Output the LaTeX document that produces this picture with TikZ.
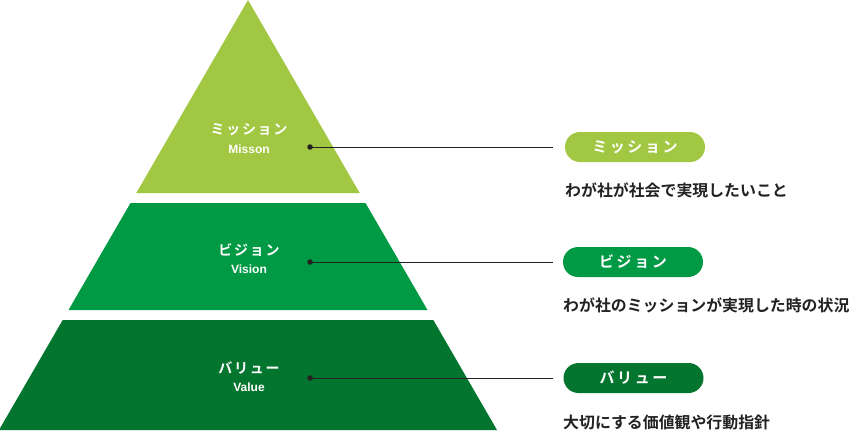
\documentclass[tikz,border=0pt]{standalone}
\usepackage{fontspec}
\usepackage{tikz}
\usetikzlibrary{positioning,calc}
\setmainfont{Noto Sans CJK JP Bold}
\newfontfamily\jptitle[LetterSpace=12]{Noto Sans CJK JP Bold}
\newfontfamily\jppill[LetterSpace=17]{Noto Sans CJK JP Bold}
\newfontfamily\latinb{Liberation Sans Bold}
\definecolor{missiongreen}{RGB}{161,199,67}
\definecolor{visiongreen}{RGB}{0,154,68}
\definecolor{valuegreen}{RGB}{3,117,47}
\definecolor{inkgray}{RGB}{34,34,34}
\begin{document}
\begin{tikzpicture}[x=1pt,y=-1pt,
    every node/.style={inner sep=0pt,text=white},
    title/.style={font=\jptitle\fontsize{14}{14}\selectfont},
    sub/.style={font=\latinb\fontsize{12}{12}\selectfont},
    pill/.style={rounded corners=15pt,minimum width=140pt,minimum height=30pt,font=\jppill\fontsize{15}{15}\selectfont},
    desc/.style={anchor=west,text=inkgray,font=\fontsize{15.9}{16}\selectfont},
    dot/.style={circle,fill=inkgray,minimum size=5.5pt},
    lead/.style={draw=inkgray,line width=.8pt}]
        \useasboundingbox (0,0) rectangle (850,431);
        % pyramid tiers
        \fill[missiongreen] (248,0) -- (359.7,193) -- (136.3,193) -- cycle;
        \fill[visiongreen] (130.5,203) -- (365.5,203) -- (427.5,310) -- (68.5,310) -- cycle;
        \fill[valuegreen] (62.7,320) -- (433.3,320) -- (497,430) -- (-1,430) -- cycle;
        % tier labels
        \node[title] (m) at (249,130) {ミッション};
        \node[sub,below=8pt of m] (ms) {Misson};
        \node[title] (v) at (249,250) {ビジョン};
        \node[sub,below=8pt of v] (vs) {Vision};
        \node[title] (u) at (249,368) {バリュー};
        \node[sub,below=8pt of u] (us) {Value};
        % dots
        \node[dot] (md) at (310,147) {};
        \node[dot] (vd) at (310,262) {};
        \node[dot] (ud) at (310,378) {};
        % pills
        \node[pill,fill=missiongreen] (mp) at (635,147) {ミッション};
        \node[pill,fill=visiongreen] (vp) at (633,262) {ビジョン};
        \node[pill,fill=valuegreen] (up) at (633.5,378) {バリュー};
        % leaders
        \draw[lead] (md.center) -- ($(mp.west)+(-12,0)$);
        \draw[lead] (vd.center) -- ($(vp.west)+(-10,0)$);
        \draw[lead] (ud.center) -- ($(up.west)+(-10,0)$);
        % descriptions
        \node[desc] (mt) at (565,190) {わが社が社会で実現したいこと};
        \node[desc] (vt) at (563,305) {わが社のミッションが実現した時の状況};
        \node[desc] (ut) at (563,422) {大切にする価値観や行動指針};
      \end{tikzpicture}
\end{document}
